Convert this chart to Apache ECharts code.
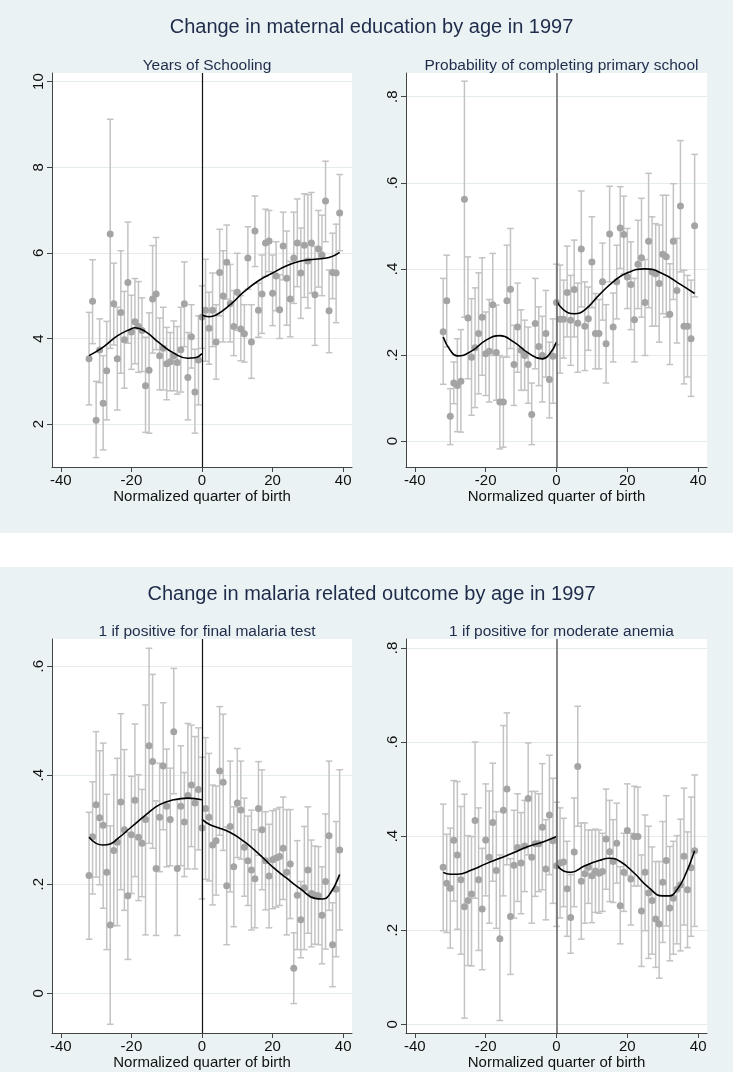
<!DOCTYPE html>
<html><head><meta charset="utf-8">
<script src="https://cdn.jsdelivr.net/npm/echarts@6/dist/echarts.min.js"></script>
<style>
html,body{margin:0;padding:0;background:#fff;}
#wrap{position:relative;width:733px;height:1072px;overflow:hidden;}
.sec{position:absolute;left:0;width:733px;background:#eaf2f3;}
#c{position:absolute;left:0;top:0;width:733px;height:1072px;}
</style>
</head><body>
<div id="wrap">
<div class="sec" style="top:0;height:533px"></div>
<div class="sec" style="top:567px;height:505px"></div>
<div id="c"></div>
</div>
<script>
// ---- data ----
const quarters = [-32,-31,-30,-29,-28,-27,-26,-25,-24,-23,-22,-21,-20,-19,-18,-17,-16,-15,-14,-13,-12,-11,-10,-9,-8,-7,-6,-5,-4,-3,-2,-1,
  0,1,2,3,4,5,6,7,8,9,10,11,12,13,14,15,16,17,18,19,20,21,22,23,24,25,26,27,28,29,30,31,32,33,34,35,36,37,38,39];
const xTicks = [-40,-20,0,20,40];

const panelTitles = ["Years of Schooling","Probability of completing primary school","1 if positive for final malaria test","1 if positive for moderate anemia"];
const sectionTitles = ["Change in maternal education by age in 1997","Change in malaria related outcome by age in 1997"];
const xAxisTitle = "Normalized quarter of birth";

// Panel 1: Years of schooling
const school = [3.53,4.87,2.09,3.73,2.49,3.25,6.44,4.81,3.53,4.61,3.97,5.31,4.15,4.39,4.28,4.19,2.90,3.26,4.92,5.04,3.60,3.77,3.41,3.46,3.60,3.44,3.74,4.81,3.09,4.04,2.75,3.50,
  4.50,4.66,4.24,4.66,3.92,5.54,4.99,5.78,4.82,4.28,5.08,4.22,4.11,5.88,3.92,6.51,4.66,5.04,6.23,6.28,5.06,5.46,4.67,6.16,5.41,4.92,5.88,6.23,5.53,6.18,5.81,6.23,5.02,6.09,5.95,7.21,4.65,5.54,5.53,6.93];
const schoolLo = [2.45,3.88,1.22,2.97,1.40,2.10,3.77,3.85,2.33,3.19,2.84,3.89,3.28,3.41,3.21,3.23,1.81,1.79,3.66,3.74,2.80,2.80,2.57,2.78,2.78,2.70,2.75,3.81,2.10,3.31,1.79,2.45,
  3.77,3.47,3.40,3.81,3.05,4.53,3.92,4.92,3.92,3.60,4.19,3.48,3.45,5.15,3.07,5.68,4.03,4.12,5.45,5.56,4.30,4.65,4.00,5.37,4.31,4.04,4.82,5.21,4.47,4.96,4.71,5.06,3.84,5.20,5.00,6.26,3.67,4.93,4.37,6.05];
const schoolHi = [4.61,5.84,3.00,4.46,3.60,4.40,9.12,5.76,4.73,6.05,5.10,6.72,5.01,5.40,5.33,4.95,4.03,4.60,6.17,6.36,4.48,4.73,4.26,4.14,4.41,4.28,4.73,5.79,4.14,4.79,3.75,4.53,
  5.23,5.85,5.08,5.53,4.79,6.55,6.05,6.65,5.73,5.12,5.99,5.00,4.79,6.61,4.79,7.33,5.29,5.95,7.02,6.99,5.95,6.26,5.49,6.95,6.51,5.80,6.95,7.26,6.58,7.38,7.36,7.41,6.15,6.99,6.88,8.14,5.60,6.46,6.67,7.83];
const schoolFitLX = [-32,-28,-24,-20,-19,-16,-12,-8,-4,-2,0];
const schoolFitLY = [3.60,3.80,4.06,4.23,4.25,4.16,3.89,3.66,3.54,3.55,3.65];
const schoolFitRX = [0,2,4,8,12,16,20,24,28,32,36,39];
const schoolFitRY = [4.55,4.51,4.55,4.79,5.10,5.35,5.53,5.70,5.81,5.85,5.89,6.01];
const schoolTicks = [2,4,6,8,10];

// Panel 2: completing primary school
const primary = [0.254,0.326,0.058,0.135,0.129,0.139,0.562,0.286,0.195,0.217,0.250,0.288,0.203,0.209,0.317,0.206,0.091,0.091,0.326,0.353,0.178,0.265,0.211,0.199,0.178,0.062,0.273,0.220,0.199,0.250,0.143,0.197,
  0.322,0.283,0.283,0.345,0.281,0.352,0.274,0.446,0.267,0.284,0.416,0.250,0.250,0.370,0.226,0.481,0.265,0.370,0.495,0.480,0.381,0.364,0.282,0.411,0.426,0.322,0.464,0.393,0.389,0.366,0.434,0.428,0.295,0.464,0.350,0.546,0.267,0.267,0.238,0.500];
const primaryLo = [0.132,0.219,-0.008,0.087,0.022,0.021,0.288,0.145,0.060,0.078,0.110,0.153,0.106,0.091,0.199,0.095,-0.018,-0.014,0.195,0.215,0.083,0.160,0.118,0.118,0.088,-0.008,0.168,0.129,0.091,0.149,0.054,0.088,
  0.224,0.158,0.193,0.242,0.176,0.242,0.160,0.312,0.164,0.211,0.310,0.168,0.168,0.281,0.135,0.370,0.184,0.284,0.401,0.389,0.308,0.259,0.184,0.308,0.288,0.199,0.310,0.267,0.267,0.230,0.296,0.288,0.178,0.329,0.228,0.393,0.133,0.149,0.104,0.335];
const primaryHi = [0.378,0.432,0.122,0.184,0.238,0.259,0.836,0.428,0.331,0.356,0.391,0.426,0.300,0.329,0.436,0.316,0.199,0.195,0.455,0.494,0.269,0.367,0.305,0.281,0.265,0.135,0.378,0.312,0.290,0.350,0.230,0.284,
  0.411,0.409,0.374,0.453,0.385,0.467,0.367,0.581,0.370,0.358,0.521,0.343,0.329,0.460,0.317,0.592,0.344,0.455,0.591,0.569,0.494,0.463,0.378,0.513,0.564,0.422,0.622,0.521,0.505,0.502,0.571,0.571,0.412,0.598,0.471,0.698,0.397,0.385,0.374,0.666];
const primaryFitLX = [-32,-30,-28,-24,-20,-16,-12,-8,-4,-2,0];
const primaryFitLY = [0.242,0.211,0.198,0.209,0.234,0.245,0.230,0.205,0.191,0.202,0.230];
const primaryFitRX = [0,2,5,8,12,16,20,25,30,35,39];
const primaryFitRY = [0.326,0.305,0.296,0.305,0.339,0.370,0.391,0.400,0.389,0.364,0.343];
const probTicks = [0,0.2,0.4,0.6,0.8];

// Panel 3: malaria test
const malaria = [0.216,0.287,0.346,0.322,0.308,0.222,0.125,0.262,0.277,0.351,0.300,0.179,0.291,0.354,0.286,0.275,0.319,0.454,0.425,0.229,0.323,0.417,0.343,0.319,0.480,0.229,0.343,0.314,0.363,0.382,0.349,0.374,
  0.303,0.339,0.323,0.272,0.280,0.408,0.387,0.197,0.306,0.232,0.349,0.336,0.268,0.243,0.226,0.210,0.339,0.300,0.243,0.215,0.245,0.248,0.251,0.266,0.222,0.237,0.046,0.180,0.135,0.193,0.226,0.183,0.180,0.179,0.143,0.205,0.289,0.089,0.191,0.263];
const malariaLo = [0.099,0.182,0.213,0.199,0.156,0.080,-0.057,0.124,0.124,0.190,0.152,0.062,0.183,0.214,0.170,0.177,0.107,0.275,0.266,0.106,0.223,0.300,0.232,0.234,0.366,0.106,0.234,0.214,0.228,0.269,0.228,0.263,
  0.173,0.209,0.206,0.162,0.180,0.290,0.262,0.089,0.186,0.122,0.249,0.246,0.178,0.161,0.116,0.120,0.253,0.190,0.153,0.120,0.155,0.158,0.161,0.172,0.107,0.137,-0.019,0.080,0.065,0.080,0.110,0.085,0.090,0.089,0.054,0.081,0.152,0.012,0.067,0.116];
const malariaHi = [0.332,0.388,0.480,0.445,0.459,0.365,0.307,0.401,0.431,0.513,0.447,0.295,0.398,0.494,0.401,0.374,0.529,0.633,0.585,0.353,0.422,0.533,0.448,0.413,0.596,0.355,0.454,0.405,0.495,0.492,0.471,0.487,
  0.433,0.469,0.440,0.382,0.380,0.526,0.512,0.305,0.426,0.342,0.449,0.426,0.358,0.325,0.336,0.300,0.425,0.410,0.333,0.310,0.335,0.338,0.341,0.360,0.337,0.337,0.111,0.280,0.205,0.306,0.342,0.281,0.270,0.269,0.232,0.329,0.426,0.166,0.315,0.410];
const malariaFitLX = [-32,-30,-28,-26,-24,-20,-16,-12,-8,-4,0];
const malariaFitLY = [0.286,0.275,0.272,0.274,0.283,0.305,0.327,0.346,0.355,0.358,0.355];
const malariaFitRX = [0,2,4,8,12,16,20,24,28,32,34,36,39];
const malariaFitRY = [0.319,0.310,0.305,0.295,0.278,0.256,0.232,0.211,0.191,0.174,0.173,0.180,0.218];
const malariaTicks = [0,0.2,0.4,0.6];

// Panel 4: moderate anemia
const anemia = [0.334,0.300,0.289,0.391,0.360,0.307,0.250,0.263,0.277,0.433,0.307,0.245,0.392,0.355,0.429,0.327,0.182,0.455,0.500,0.229,0.338,0.376,0.343,0.379,0.480,0.355,0.384,0.384,0.419,0.330,0.445,0.390,
  0.337,0.343,0.345,0.288,0.227,0.366,0.548,0.304,0.320,0.334,0.316,0.326,0.321,0.325,0.394,0.367,0.346,0.385,0.252,0.323,0.412,0.309,0.399,0.399,0.241,0.323,0.279,0.263,0.224,0.213,0.302,0.348,0.247,0.268,0.287,0.296,0.357,0.286,0.333,0.369];
const anemiaLo = [0.199,0.195,0.162,0.262,0.202,0.149,0.013,0.125,0.124,0.268,0.157,0.116,0.273,0.215,0.304,0.204,0.008,0.273,0.339,0.106,0.226,0.261,0.235,0.282,0.360,0.215,0.272,0.282,0.286,0.222,0.318,0.257,
  0.208,0.226,0.250,0.187,0.151,0.250,0.421,0.181,0.215,0.257,0.216,0.238,0.236,0.240,0.287,0.261,0.259,0.300,0.171,0.240,0.316,0.211,0.294,0.294,0.123,0.199,0.140,0.149,0.121,0.098,0.174,0.209,0.135,0.149,0.171,0.156,0.211,0.163,0.187,0.208];
const anemiaHi = [0.468,0.404,0.417,0.518,0.516,0.463,0.489,0.401,0.399,0.600,0.460,0.374,0.511,0.496,0.555,0.452,0.360,0.635,0.662,0.352,0.455,0.490,0.450,0.476,0.598,0.495,0.495,0.490,0.554,0.435,0.572,0.523,
  0.472,0.460,0.438,0.389,0.318,0.481,0.676,0.428,0.428,0.413,0.413,0.415,0.413,0.406,0.500,0.476,0.435,0.470,0.335,0.406,0.511,0.406,0.506,0.504,0.360,0.445,0.421,0.377,0.346,0.346,0.431,0.486,0.378,0.389,0.401,0.436,0.502,0.409,0.483,0.530];
const anemiaFitLX = [-32,-30,-28,-24,-20,-16,-12,-8,-4,0];
const anemiaFitLY = [0.323,0.319,0.319,0.328,0.341,0.353,0.365,0.378,0.387,0.399];
const anemiaFitRX = [0,2,4,8,12,15,18,22,26,30,32,34,36,39];
const anemiaFitRY = [0.339,0.326,0.323,0.337,0.348,0.353,0.346,0.321,0.291,0.273,0.273,0.286,0.311,0.369];

// ---- layout / style ----
const FONT = "'Liberation Sans', Arial, sans-serif";
const TITLE_COLOR = '#1e2b4a';
const grids = [
  {left:52, top:73, width:300, height:394},
  {left:406, top:73, width:301, height:394},
  {left:52, top:639, width:300, height:394},
  {left:406, top:639, width:301, height:394}
];
const panels = [
  {est:school, lo:schoolLo, hi:schoolHi, flx:schoolFitLX, fly:schoolFitLY, frx:schoolFitRX, fry:schoolFitRY, min:1.0, max:10.2, ticks:schoolTicks, zc:'#111', zw:1.2},
  {est:primary, lo:primaryLo, hi:primaryHi, flx:primaryFitLX, fly:primaryFitLY, frx:primaryFitRX, fry:primaryFitRY, min:-0.06, max:0.855, ticks:probTicks, zc:'#6a6a6a', zw:1.6},
  {est:malaria, lo:malariaLo, hi:malariaHi, flx:malariaFitLX, fly:malariaFitLY, frx:malariaFitRX, fry:malariaFitRY, min:-0.073, max:0.65, ticks:malariaTicks, zc:'#111', zw:1.2},
  {est:anemia, lo:anemiaLo, hi:anemiaHi, flx:anemiaFitLX, fly:anemiaFitLY, frx:anemiaFitRX, fry:anemiaFitRY, min:-0.0185, max:0.819, ticks:probTicks, zc:'#6a6a6a', zw:1.6}
];

function fmtY(v){
  if (Math.abs(v) < 1e-9) return '0';
  const s = String(+v.toFixed(2));
  return s.replace(/^0\./, '.');
}

const option = {
  animation:false,
  backgroundColor:'transparent',
  textStyle:{fontFamily:FONT},
  title:[],
  grid:[], xAxis:[], yAxis:[], series:[]
};

option.title.push({text:sectionTitles[0], left:366.5, textAlign:'center', top:12,
  textStyle:{fontSize:20, fontWeight:'normal', color:TITLE_COLOR, fontFamily:FONT}});
option.title.push({text:sectionTitles[1], left:366.5, textAlign:'center', top:579,
  textStyle:{fontSize:20, fontWeight:'normal', color:TITLE_COLOR, fontFamily:FONT}});

panels.forEach((p, i) => {
  const g = grids[i];
  option.title.push({text:panelTitles[i], left:g.left + g.width/2, textAlign:'center', top:g.top - 20,
    textStyle:{fontSize:15.5, fontWeight:'normal', color:TITLE_COLOR, fontFamily:FONT}});
  option.grid.push(Object.assign({show:true, backgroundColor:'#ffffff', borderWidth:0, containLabel:false, outerBoundsMode:'none'}, g));
  option.xAxis.push({
    type:'value', gridIndex:i, min:-42.5, max:42.5,
    name:xAxisTitle, nameLocation:'middle', nameGap:22,
    nameTextStyle:{fontSize:15, color:'#111', fontFamily:FONT},
    axisLine:{show:true, onZero:false, lineStyle:{color:'#444', width:1}},
    axisTick:{show:true, length:5, customValues:xTicks, lineStyle:{color:'#444'}},
    axisLabel:{show:true, customValues:xTicks, margin:6, fontSize:15, color:'#111', fontFamily:FONT},
    splitLine:{show:false}
  });
  option.yAxis.push({
    type:'value', gridIndex:i, min:p.min, max:p.max,
    axisLine:{show:true, onZero:false, lineStyle:{color:'#444', width:1}},
    axisTick:{show:true, length:5, customValues:p.ticks, lineStyle:{color:'#444'}},
    axisLabel:{show:true, customValues:p.ticks, rotate:90, margin:6, fontSize:15, color:'#111', fontFamily:FONT, formatter:fmtY},
    splitLine:{show:true, lineStyle:{color:'#e3ebee', width:1}}
  });
  const barData = quarters.map((q, k) => [q, p.lo[k], p.hi[k]]);
  option.series.push({
    type:'custom', xAxisIndex:i, yAxisIndex:i, z:2, clip:true,
    data:barData,
    encode:{x:0, y:[1,2]},
    renderItem:function(params, api){
      const x = api.value(0);
      const a = api.coord([x, api.value(1)]);
      const b = api.coord([x, api.value(2)]);
      const w = 3.3;
      const st = {stroke:'#c3c3c3', lineWidth:1.5};
      return {type:'group', children:[
        {type:'line', shape:{x1:a[0], y1:a[1], x2:b[0], y2:b[1]}, style:st},
        {type:'line', shape:{x1:a[0]-w, y1:a[1], x2:a[0]+w, y2:a[1]}, style:st},
        {type:'line', shape:{x1:b[0]-w, y1:b[1], x2:b[0]+w, y2:b[1]}, style:st}
      ]};
    }
  });
  option.series.push({
    type:'scatter', xAxisIndex:i, yAxisIndex:i, z:3,
    data:quarters.map((q, k) => [q, p.est[k]]),
    symbol:'circle', symbolSize:7,
    itemStyle:{color:'#a4a4a4', opacity:1},
    markLine:{silent:true, symbol:['none','none'], label:{show:false},
      lineStyle:{color:p.zc, width:p.zw, type:'solid'},
      data:[{xAxis:0}]}
  });
  [[p.flx, p.fly],[p.frx, p.fry]].forEach(([fx, fy]) => {
    option.series.push({
      type:'line', xAxisIndex:i, yAxisIndex:i, z:4,
      data:fx.map((x, k) => [x, fy[k]]),
      smooth:0.5, symbol:'none',
      lineStyle:{color:'#000', width:1.6}
    });
  });
});

const chart = echarts.init(document.getElementById('c'), null, {renderer:'canvas'});
chart.setOption(option);
</script>
</body></html>
